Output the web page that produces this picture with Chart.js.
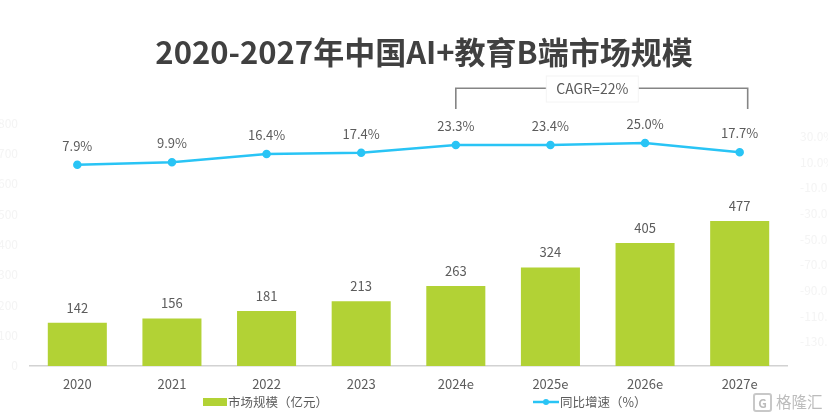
<!DOCTYPE html>
<html lang="zh">

<head>
  <meta charset="UTF-8">
  <title>2020-2027年中国AI+教育B端市场规模</title>
  <script src="https://cdn.jsdelivr.net/npm/chart.js"></script>
  <style>
    html, body { margin: 0; padding: 0; background: #fff; }
    .chart-wrapper { position: relative; width: 828px; height: 418px; overflow: hidden; }
    canvas { filter: blur(0.5px); }
    .legend-item { position: absolute; top: 393px; height: 18px; line-height: 18px; color: #5c5c5c; font: 12.5px/18px "Noto Sans CJK SC"; filter: blur(0.4px); white-space: nowrap; }
    .legend-item canvas { position: absolute; left: -27px; top: 4px; filter: none; }
    .watermark { position: absolute; left: 753px; top: 391px; height: 20px; color: #bcbcbc; font: 15.5px/20px "Noto Sans CJK SC"; filter: blur(0.4px); white-space: nowrap; }
    .watermark b { display: inline-block; width: 15px; height: 15px; line-height: 15px; margin-right: 4px; border: 2px solid #c8c8c8; border-radius: 3px; text-align: center; font-size: 12px; vertical-align: 0; }
  </style>
</head>

<body>
  <div class="chart-wrapper">
    <canvas id="marketChart" width="828" height="418"></canvas>
    <div class="legend-item" id="legendBar" style="left: 228px;"></div>
    <div class="legend-item" id="legendLine" style="left: 560px;"></div>
    <div class="watermark"><b>G</b>格隆汇</div>
  </div>

  <script>
    const years = ['2020', '2021', '2022', '2023', '2024e', '2025e', '2026e', '2027e'];
    const marketSize = [142, 156, 181, 213, 263, 324, 405, 477];
    const growthRate = [7.9, 9.9, 16.4, 17.4, 23.3, 23.4, 25.0, 17.7];
    const growthTicks = [30, 10, -10, -30, -50, -70, -90, -110, -130];

    const BAR_COLOR = '#b2d235';
    const LINE_COLOR = '#29c4f5';
    const TEXT_COLOR = '#5c5c5c';
    const GHOST_COLOR = '#f4f4f4';
    const FONT = '"Noto Sans CJK SC", "Noto Sans", sans-serif';

    function legendIcon(isLine) {
      const c = document.createElement('canvas');
      c.width = 26;
      c.height = 10;
      const ctx = c.getContext('2d');
      if (isLine) {
        ctx.strokeStyle = LINE_COLOR;
        ctx.lineWidth = 2.5;
        ctx.beginPath();
        ctx.moveTo(0, 5);
        ctx.lineTo(26, 5);
        ctx.stroke();
        ctx.fillStyle = LINE_COLOR;
        ctx.beginPath();
        ctx.arc(13, 5, 3, 0, Math.PI * 2);
        ctx.fill();
      } else {
        ctx.fillStyle = BAR_COLOR;
        ctx.fillRect(2, 1, 24, 8);
      }
      return c;
    }

    // values above the bars and above the line points
    const valueLabels = {
      id: 'valueLabels',
      afterDatasetsDraw(chart) {
        const { ctx } = chart;
        ctx.save();
        ctx.fillStyle = TEXT_COLOR;
        ctx.font = '13px ' + FONT;
        ctx.textAlign = 'center';
        ctx.textBaseline = 'middle';
        chart.getDatasetMeta(0).data.forEach((el, i) => {
          ctx.fillText(marketSize[i], el.x, el.y - 15);
        });
        chart.getDatasetMeta(1).data.forEach((el, i) => {
          ctx.fillText(growthRate[i].toFixed(1) + '%', el.x, el.y - 19);
        });
        ctx.restore();
      }
    };

    // CAGR bracket from 2024e to just past 2027e, label box is off centre
    const cagrBracket = {
      id: 'cagrBracket',
      afterDraw(chart) {
        const { ctx } = chart;
        const x = chart.scales.x;
        const x0 = x.getPixelForValue(4);
        const x1 = x.getPixelForValue(7) + 8;
        const boxMid = x0 + 136.5;
        ctx.save();
        ctx.strokeStyle = '#858585';
        ctx.lineWidth = 1.6;
        ctx.beginPath();
        ctx.moveTo(x0, 109);
        ctx.lineTo(x0, 88.3);
        ctx.lineTo(x1, 88.3);
        ctx.lineTo(x1, 109);
        ctx.stroke();
        ctx.fillStyle = '#fff';
        ctx.strokeStyle = '#f4f4f4';
        ctx.lineWidth = 1;
        ctx.fillRect(boxMid - 46, 76, 92, 26);
        ctx.strokeRect(boxMid - 46, 76, 92, 26);
        ctx.fillStyle = TEXT_COLOR;
        ctx.font = '14px ' + FONT;
        ctx.textAlign = 'center';
        ctx.textBaseline = 'middle';
        ctx.fillText('CAGR=22%', boxMid, 89);
        ctx.restore();
      }
    };

    // title sits a little right of the canvas centre in the original
    const shiftTitle = {
      id: 'shiftTitle',
      afterLayout(chart) {
        chart.titleBlock.left += 10;
        chart.titleBlock.right += 10;
      }
    };

    const chart = new Chart(document.getElementById('marketChart'), {
      type: 'bar',
      data: {
        labels: years,
        datasets: [{
          type: 'bar',
          label: '市场规模（亿元）',
          data: marketSize,
          backgroundColor: BAR_COLOR,
          barPercentage: 0.624,
          categoryPercentage: 1,
          yAxisID: 'y',
          order: 2
        }, {
          type: 'line',
          label: '同比增速（%）',
          data: growthRate,
          borderColor: LINE_COLOR,
          backgroundColor: LINE_COLOR,
          borderWidth: 2.5,
          pointRadius: 3,
          tension: 0,
          yAxisID: 'y1',
          order: 1
        }]
      },
      options: {
        responsive: false,
        animation: false,
        layout: { padding: { bottom: 16.5 } },
        plugins: {
          title: {
            display: true,
            text: '2020-2027年中国AI+教育B端市场规模',
            color: '#404040',
            font: { family: FONT, size: 31, weight: 'bold' },
            padding: { top: 33.4, bottom: 52.4 }
          },
          legend: { display: false },
          tooltip: { enabled: false }
        },
        scales: {
          x: {
            grid: { display: false, drawTicks: false },
            border: { color: '#d2d2d2', width: 1.5 },
            ticks: { color: TEXT_COLOR, font: { family: FONT, size: 13 }, padding: 10 }
          },
          y: {
            min: 0,
            max: 800,
            afterFit(scale) { scale.width = 30; },
            grid: { display: false, drawTicks: false },
            border: { display: false },
            ticks: { stepSize: 100, color: GHOST_COLOR, font: { family: FONT, size: 12 }, padding: 12 }
          },
          y1: {
            position: 'right',
            min: -148.7,
            max: 40.5,
            afterFit(scale) { scale.width = 41; },
            afterBuildTicks(scale) { scale.ticks = growthTicks.map(value => ({ value })); },
            grid: { display: false, drawTicks: false },
            border: { display: false },
            ticks: {
              color: GHOST_COLOR,
              font: { family: FONT, size: 12 },
              padding: 13,
              callback: v => v.toFixed(1) + '%'
            }
          }
        }
      },
      plugins: [valueLabels, cagrBracket, shiftTitle]
    });

    // legend is laid out wider than the built-in one allows
    [['legendBar', 0, false], ['legendLine', 1, true]].forEach(([id, index, isLine]) => {
      const item = document.getElementById(id);
      item.textContent = chart.data.datasets[index].label;
      item.appendChild(legendIcon(isLine));
    });
  </script>
</body>

</html>
